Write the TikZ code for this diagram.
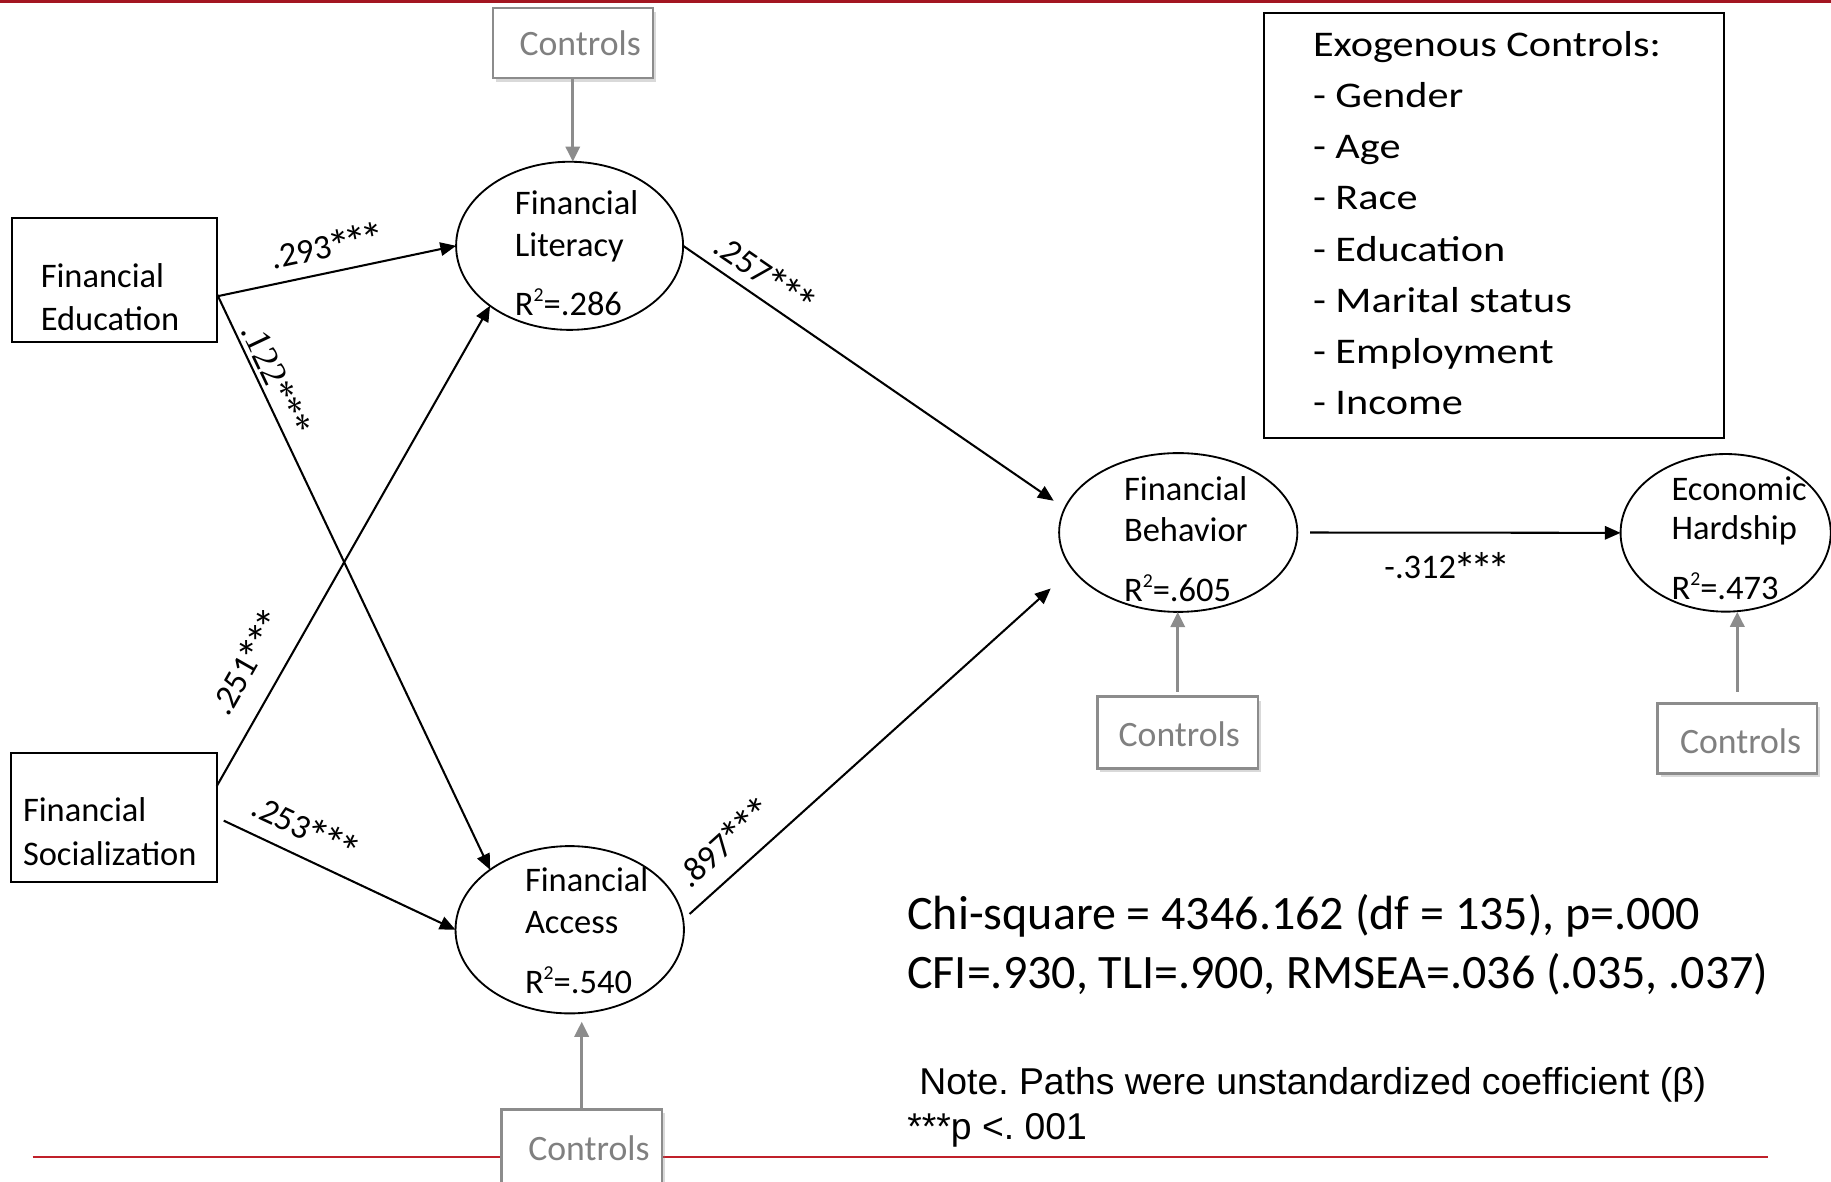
\documentclass[tikz,border=0pt]{standalone}
\usepackage{fontspec}
\setmainfont{Carlito}
\newfontfamily\exofont[FakeStretch=1.17]{Carlito}
\newfontfamily\notefont{Liberation Sans}
\newfontfamily\labserif{Liberation Serif}
\usetikzlibrary{arrows.meta,shapes.geometric,shadows}
\frenchspacing

\definecolor{deepred}{RGB}{163,22,33}
\definecolor{linered}{RGB}{192,32,42}
\definecolor{ctrlgray}{RGB}{128,128,128}
\definecolor{ctrledge}{RGB}{140,140,140}

% R with a small raised 2
\newcommand{\Rsq}{R\raisebox{0.85ex}{\fontsize{4.8}{5}\selectfont 2}}
% significance stars, drawn a little larger than the digits' font gives them
\newcommand{\onestar}{\makebox[0.498em]{\raisebox{-1.7pt}{\scalebox{1.35}{*}}}}
\newcommand{\sig}{\onestar\onestar\onestar}

\tikzset{
  every node/.style={inner sep=0pt, outer sep=0pt},
  txt/.style={anchor=base west, font=\fontsize{8.4}{10}\selectfont},
  ctxt/.style={anchor=base west, text=ctrlgray, font=\fontsize{8.7}{10}\selectfont},
  exo/.style={anchor=base west, font=\exofont\fontsize{8.8}{10}\selectfont},
  lat/.style={draw, ellipse, line width=0.45pt},
  obs/.style={draw, rectangle, line width=0.5pt},
  ctrl/.style={draw=ctrledge, fill=white, rectangle, line width=0.6pt,
    drop shadow={shadow xshift=0.25mm, shadow yshift=-0.35mm, opacity=0.3}},
  causal/.style={line width=0.5pt, -{Triangle[length=1.35mm,width=1.15mm]}},
  cpath/.style={draw=ctrledge, line width=0.8pt, -{Triangle[length=1.3mm,width=1.2mm]}},
  lab/.style={font=\fontsize{8.4}{10}\selectfont, sloped},
}

\begin{document}
\begin{tikzpicture}[x=0.1mm, y=-0.1mm]
\useasboundingbox (0,0) rectangle (1568,1011.4);

% red rules
\fill[deepred] (0,0) rectangle (1568,2.4);
\draw[linered, line width=0.17mm] (28,991) -- (1514,991);

% latent constructs
\node[lat, minimum width=19.44mm, minimum height=14.4mm] (fl) at (487.8,210.5) {};
\node[lat, minimum width=19.56mm, minimum height=14.33mm] (fa) at (487.9,796.2) {};
\node[lat, minimum width=20.4mm, minimum height=13.6mm] (fb) at (1009,456) {};
\node[lat, minimum width=18.0mm, minimum height=13.5mm] (eh) at (1477.8,456.3) {};

% observed predictors
\node[obs, minimum width=17.6mm, minimum height=10.56mm] (fe) at (98,239.8) {};
\node[obs, minimum width=17.61mm, minimum height=11.0mm] (fs) at (97.65,700) {};

% control boxes
\node[ctrl, minimum width=13.7mm, minimum height=6.0mm] (ctop) at (490.5,37) {};
\node[ctrl, minimum width=13.78mm, minimum height=6.14mm] (cfb) at (1008.6,627.3) {};
\node[ctrl, minimum width=13.65mm, minimum height=6.0mm] (ceh) at (1487.75,632.3) {};
\node[ctrl, minimum width=13.71mm, minimum height=7.0mm] (cfa) at (498.15,985) {};

% list of exogenous controls
\node[obs, minimum width=39.4mm, minimum height=36.41mm] (exobox) at (1279.6,192.95) {};
\foreach \t [count=\i] in {Exogenous Controls:, - Gender, - Age, - Race, - Education,
    - Marital status, - Employment, - Income}
  \node[exo] (exo\i) at (1124.4,{48+43.9*(\i-1)}) {\t};

% texts of the constructs
\node[txt] (fe1) at (34.9,246) {Financial};
\node[txt] (fe2) at (34.9,282.6) {Education};
\node[txt] (fs1) at (19.7,703.7) {Financial};
\node[txt] (fs2) at (19.7,740.8) {Socialization};
\node[txt] (fl1) at (441,184.1) {Financial};
\node[txt] (fl2) at (441,219.8) {Literacy};
\node[txt] (fl3) at (441,269.8) {\Rsq=.286};
\node[txt] (fa1) at (449.6,763.6) {Financial};
\node[txt] (fa2) at (449.6,799.3) {Access};
\node[txt] (fa3) at (449.6,850.7) {\Rsq=.540};
\node[txt] (fb1) at (962.6,428.2) {Financial};
\node[txt] (fb2) at (962.6,463.9) {Behavior};
\node[txt] (fb3) at (962.6,515.3) {\Rsq=.605};
\node[txt] (eh1) at (1431.5,428.2) {Economic};
\node[txt] (eh2) at (1431.5,462.4) {Hardship};
\node[txt] (eh3) at (1431.5,513.8) {\Rsq=.473};

\node[ctxt] (ctop1) at (445,47.1) {Controls};
\node[ctxt] (cfb1) at (958,638.9) {Controls};
\node[ctxt] (ceh1) at (1438.7,645) {Controls};
\node[ctxt] (cfa1) at (452.5,993.4) {Controls};

% structural paths
\draw[causal] (fe.-9.2) -- (fl.west)
  node[lab, pos=0.48, above=0.63mm] (l293) {.293\sig};
\draw[causal] (fe.-8) -- (fa.143)
  node[lab, font=\labserif\fontsize{8.9}{10}\selectfont, pos=0.16, above=0.4mm] (l122) {.122***};
\draw[causal] (fs.17.5) -- (fl.217.7)
  node[lab, pos=0.22, above=1.4mm] (l251) {.251\sig};
\draw[causal, shorten <=0.65mm] (fs.east) -- (fa.west)
  node[lab, pos=0.32, above=0.8mm] (l253) {.253\sig};
\draw[causal, shorten >=1.15mm] (fl.east) -- (fb.168.5)
  node[lab, pos=0.18, above=0.36mm] (l257) {.257\sig};
\draw[causal, shorten <=0.75mm, shorten >=2.5mm] (fa.5) -- (fb.199.7)
  node[lab, pos=0.156, above=0.93mm] (l897) {.897\sig};
\draw[causal, shorten <=1.1mm] (fb.east) -- (eh.west)
  node[pos=0.46, below=1.7mm, font=\fontsize{8.4}{10}\selectfont] (l312) {-.312\sig};

% control paths
\draw[cpath] (ctop.south) -- (ctop.south |- fl.north);
\draw[cpath, shorten >=0.7mm] (cfa.north) -- (cfa.north |- fa.south);
\draw[cpath, shorten <=0.43mm] (cfb.north) -- (cfb.north |- fb.south);
\draw[cpath, shorten <=1mm] (ceh.north) -- (ceh.north |- eh.south);

% fit statistics and note
\node[anchor=base west, font=\fontsize{11.7}{14}\selectfont] (fit1) at (777,796.4)
  {Chi-square = 4346.162 (df = 135), p=.000};
\node[anchor=base west, font=\fontsize{11.7}{14}\selectfont] (fit2) at (777,846.4)
  {CFI=.930, TLI=.900, RMSEA=.036 (.035, .037)};
\node[anchor=base west, font=\notefont\fontsize{9.1}{11}\selectfont] (note1) at (787.4,937.7)
  {Note. Paths were unstandardized coefficient (β)};
\node[anchor=base west, font=\notefont\fontsize{9.1}{11}\selectfont] (note2) at (777,975.7)
  {***p <. 001};
\end{tikzpicture}
\end{document}
